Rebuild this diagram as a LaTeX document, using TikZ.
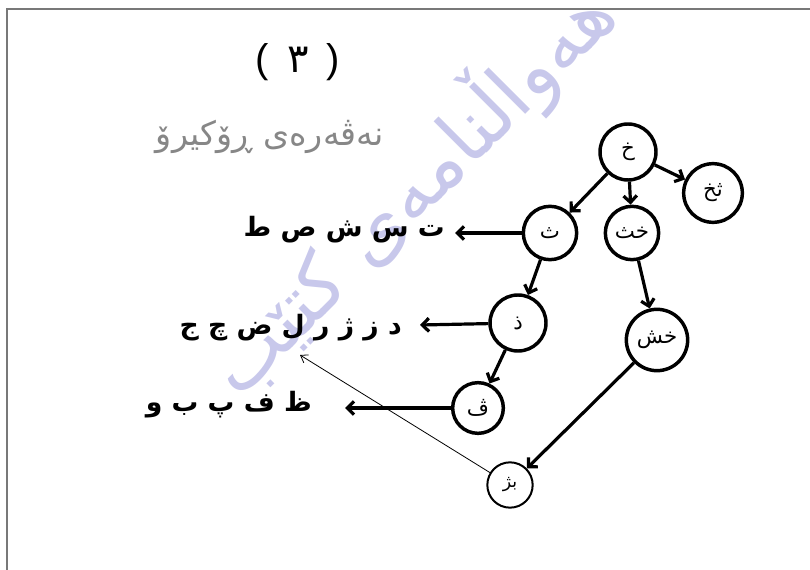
\documentclass[tikz,border=0pt]{standalone}
\usepackage{fontspec}
\usetikzlibrary{arrows.meta}
\TeXXeTstate=1
\newfontfamily\arf[Script=Arabic]{DejaVu Sans}
\newfontfamily\arl[Script=Arabic]{DejaVu Sans ExtraLight}
\setmainfont{Liberation Sans}
\definecolor{wm}{RGB}{200,200,235}
\definecolor{frame}{RGB}{120,120,120}
\definecolor{ttl}{RGB}{135,135,135}
\tikzset{
  st/.style={circle,draw=black,line width=2.6pt,inner sep=0pt,font=\arf\fontsize{16}{18}\selectfont},
  thinst/.style={circle,draw=black,line width=1.5pt,inner sep=0pt,font=\arf\fontsize{13}{15}\selectfont},
  edge/.style={line width=2.4pt,-{Straight Barb[length=5pt,width=10pt,line width=2.4pt]}},
  thinedge/.style={line width=0.6pt,-{Straight Barb[length=5pt,width=7pt]}},
  lbl/.style={inner sep=0pt,font=\arf\bfseries\fontsize{20}{24}\selectfont},
}
\begin{document}
\begin{tikzpicture}[x=0.75pt,y=-0.75pt]
\useasboundingbox (0,0) rectangle (810,570);
% watermark
\node[rotate=45,text=wm,font=\arf\fontsize{58}{60}\selectfont] (wmark) at (410,190) {\beginR هەواڵنامەی کتێب\endR};
% frame
\draw[frame,line width=1.3pt] (810,9) -- (7,9) -- (7,570);
% titles
\node[font=\fontsize{30}{34}\selectfont] (num) at (298,62) {(\hspace{0.45em}{\arf ٣}\hspace{0.45em})};
\node[text=ttl,font=\arf\fontsize{25}{28}\selectfont] (title) at (270,137) {\beginR نەڤەرەی ڕۆکیرۆ\endR};
% nodes
\node[st,minimum size=42pt] (kh) at (628,152) {\beginR خ\endR};
\node[st,minimum size=44pt] (thkh) at (713,193) {\beginR ثخ\endR};
\node[st,minimum size=40pt] (th) at (550,233) {\beginR ث\endR};
\node[st,minimum size=40pt] (khth) at (632,233) {\beginR خث\endR};
\node[st,minimum size=42pt] (dh) at (518,323) {\beginR ذ\endR};
\node[st,minimum size=46pt] (khsh) at (657,340) {\beginR خش\endR};
\node[st,minimum size=38pt] (ve) at (478,408) {\beginR ڤ\endR};
\node[thinst,minimum size=34pt] (bzh) at (510,485) {\beginR بژ\endR};
% labels
\node[lbl,anchor=east] (l1) at (445,230) {\beginR ت س ش ص ط\endR};
\node[lbl,anchor=east] (l2) at (402,328) {\beginR د ز ژ ر ل ض چ ج\endR};
\node[lbl,anchor=east] (l3) at (312,405) {\beginR ظ ف پ ب  و\endR};
\coordinate (a1) at (455,233);
\coordinate (a2) at (420,325);
\coordinate (a3) at (345,408);
\coordinate (a4) at (300,355);
% edges
\draw[edge] (kh) -- (th);
\draw[edge] (kh) -- (khth);
\draw[edge] (kh) -- (thkh);
\draw[edge] (th) -- (dh);
\draw[edge] (khth) -- (khsh);
\draw[edge] (dh) -- (ve);
\draw[edge] (khsh) -- (bzh);
\draw[edge] (th) -- (a1);
\draw[edge] (dh) -- (a2);
\draw[edge] (ve) -- (a3);
\draw[thinedge] (bzh) -- (a4);
\end{tikzpicture}
\end{document}
